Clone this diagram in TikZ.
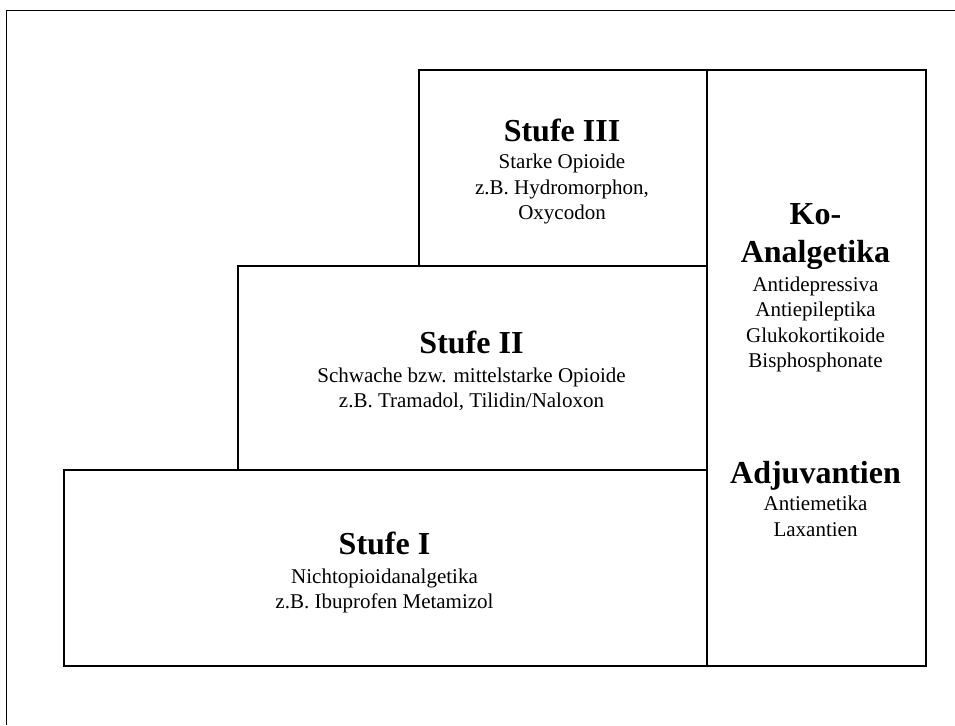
\documentclass[tikz,border=0pt]{standalone}
\usepackage{fontspec}
\setmainfont{Liberation Serif}

\tikzset{
	stufebox/.style={draw, line width=2.2pt, anchor=north west, inner sep=0pt},
	titel/.style={anchor=base, align=center, inner sep=0pt, font=\fontsize{32}{38}\selectfont\bfseries},
	inhalt/.style={anchor=base, align=center, inner sep=0pt, font=\fontsize{21}{25.5}\selectfont}
}

\begin{document}
\begin{tikzpicture}[x=1pt, y=-1pt]
		
		\useasboundingbox (0,0) rectangle (955,725);
		
		% --- Frame (top and left) ---
		\draw[line width=1pt] (6,725) -- (6,11) -- (955,11);
		
		% --- Stufen ---
		\node[stufebox, minimum width=643pt, minimum height=196pt] (stufeI) at (63,469) {};
		\node[stufebox, minimum width=469pt, minimum height=204pt] (stufeII) at (237,265) {};
		\node[stufebox, minimum width=288pt, minimum height=196pt] (stufeIII) at (418,69) {};
		\node[stufebox, minimum width=219pt, minimum height=596pt] (ko) at (706,69) {};
		
		% --- Texte (base = last line) ---
		\node[titel] (tIII) at (562,141) {Stufe III};
		\node[inhalt] (iIII) at (562,219.5) {Starke Opioide\\z.B. Hydromorphon,\\Oxycodon};
		
		\node[titel] (tII) at (471.5,353) {Stufe II};
		\node[inhalt] (iII) at (471.5,407.5) {Schwache bzw. mittelstarke Opioide\\z.B. Tramadol, Tilidin/Naloxon};
		
		\node[titel] (tI) at (384.5,554) {Stufe I};
		\node[inhalt] (iI) at (384.5,608.5) {Nichtopioidanalgetika\\z.B. Ibuprofen Metamizol};
		
		% Ko-Analgetika / Adjuvantien
		\node[titel] (tko) at (815.5,262) {Ko-\\Analgetika};
		\node[inhalt] (iko) at (815.5,367.5) {Antidepressiva\\Antiepileptika\\Glukokortikoide\\Bisphosphonate};
		
		\node[titel] (tadj) at (815.5,483) {Adjuvantien};
		\node[inhalt] (iadj) at (815.5,536) {Antiemetika\\Laxantien};
		
\end{tikzpicture}
\end{document}
